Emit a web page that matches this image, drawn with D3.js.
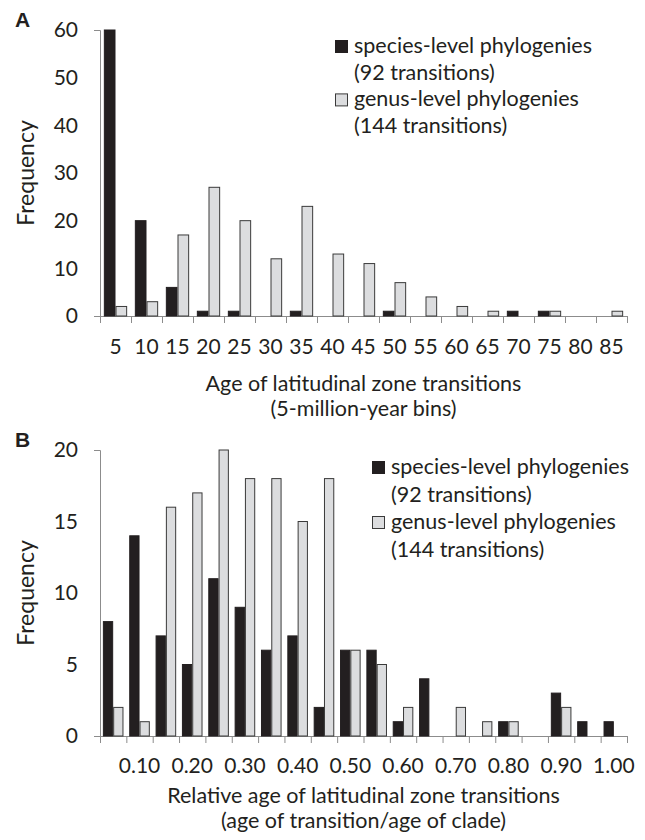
<!DOCTYPE html>
<html>
<head>
<meta charset="utf-8">
<script src="https://cdnjs.cloudflare.com/ajax/libs/d3/7.8.5/d3.min.js"></script>
<style>
body { margin: 0; background: #fff; }
svg { font-family: Lato, "Open Sans", sans-serif; }
text { fill: #231f20; }
</style>
</head>
<body>
<svg id="chart" width="645" height="840"></svg>
<script>
// panel A: age bins (5 Myr)
var binsA = ["5","10","15","20","25","30","35","40","45","50","55","60","65","70","75","80","85"];
var speciesA = [60, 20, 6, 1, 1, 0, 1, 0, 0, 1, 0, 0, 0, 1, 1, 0, 0];
var genusA   = [2, 3, 17, 27, 20, 12, 23, 13, 11, 7, 4, 2, 1, 0, 1, 0, 1];
var yTicksA  = [0, 10, 20, 30, 40, 50, 60];

// panel B: relative age bins
var binsB = ["0.05","0.10","0.15","0.20","0.25","0.30","0.35","0.40","0.45","0.50",
             "0.55","0.60","0.65","0.70","0.75","0.80","0.85","0.90","0.95","1.00"];
var speciesB = [8, 14, 7, 5, 11, 9, 6, 7, 2, 6, 6, 1, 4, 0, 0, 1, 0, 3, 1, 1];
var genusB   = [2, 1, 16, 17, 20, 18, 18, 15, 18, 6, 5, 2, 0, 2, 1, 1, 0, 2, 0, 0];
var yTicksB  = [0, 5, 10, 15, 20];
var labelsB  = ["0.10","0.20","0.30","0.40","0.50","0.60","0.70","0.80","0.90","1.00"];

var seriesNames = ["species-level phylogenies", "genus-level phylogenies"];
var seriesNotes = ["(92 transitions)", "(144 transitions)"];
var colors = ["#231f20", "#dcdddf"];
var strokes = ["#231f20", "#3a3a3a"];
var axisColor = "#8c8c8c";

var svg = d3.select("#chart");

function panel(opt) {
    var g = svg.append("g");
    var x = d3.scaleBand().domain(opt.bins).range([opt.x0, opt.x1]).padding(0);
    var edges = d3.scaleLinear().domain([0, opt.bins.length]).range([opt.x0, opt.x1]);
    var y = d3.scaleLinear().domain([0, opt.ymax]).range([opt.y0, opt.y1]);
    var sub = d3.scaleBand().domain([0, 1]).range([0, x.bandwidth()])
                .paddingInner(0).paddingOuter(opt.pad);

    // x axis, ticks sit on the bin edges
    var xa = g.append("g").attr("transform", "translate(0," + opt.y0 + ")")
        .call(d3.axisBottom(edges).tickValues(d3.range(opt.bins.length + 1))
              .tickFormat("").tickSize(7).tickSizeOuter(0));
    xa.selectAll("path, line").attr("stroke", axisColor);

    var xl = g.append("g").attr("transform", "translate(0," + opt.y0 + ")")
        .call(d3.axisBottom(x).tickValues(opt.labels).tickSize(0).tickPadding(opt.labPad));
    xl.select(".domain").remove();
    xl.selectAll("text").attr("fill", "#231f20").style("font-size", opt.tickFont + "px")
      .style("font-family", "Lato");

    // y axis
    var ya = g.append("g").attr("transform", "translate(" + opt.x0 + ",0)")
        .call(d3.axisLeft(y).tickValues(opt.yticks).tickSizeInner(0).tickSizeOuter(6).tickPadding(22));
    ya.select(".domain").attr("stroke", axisColor);
    ya.selectAll("text").attr("fill", "#231f20").style("font-size", opt.tickFont + "px")
      .style("font-family", "Lato");

    // bars
    [opt.species, opt.genus].forEach(function (vals, s) {
        g.append("g").selectAll("rect")
            .data(vals.map(function (v, i) { return { bin: opt.bins[i], v: v }; })
                      .filter(function (d) { return d.v > 0; }))
            .join("rect")
            .attr("x", function (d) { return x(d.bin) + sub(s) + 0.5; })
            .attr("y", function (d) { return y(d.v); })
            .attr("width", sub.bandwidth() - 1)
            .attr("height", function (d) { return opt.y0 - y(d.v); })
            .attr("fill", colors[s])
            .attr("stroke", strokes[s])
            .attr("stroke-width", 1);
    });

    // panel letter
    g.append("text").attr("x", 15).attr("y", opt.letterY)
        .style("font-family", "Arial, 'Liberation Sans', sans-serif")
        .style("font-weight", "bold").style("font-size", "21px").text(opt.letter);

    // y title
    g.append("text")
        .attr("transform", "translate(34," + ((opt.y0 + opt.y1) / 2) + ") rotate(-90)")
        .attr("text-anchor", "middle").style("font-size", "23px").text("Frequency");

    // x title
    var cx = (opt.x0 + opt.x1) / 2;
    opt.xtitle.forEach(function (t, i) {
        g.append("text").attr("x", cx).attr("y", opt.titleY + i * opt.titleGap)
            .attr("text-anchor", "middle").style("font-size", opt.titleFont + "px").text(t);
    });

    // legend
    var lg = g.append("g").attr("transform", "translate(" + opt.legX + "," + opt.legY + ")");
    seriesNames.forEach(function (name, s) {
        var yy = s * 2 * opt.legGap;
        lg.append("rect").attr("x", 0.5).attr("y", yy - 12.5).attr("width", 12).attr("height", 12)
            .attr("fill", colors[s]).attr("stroke", strokes[s]);
        lg.append("text").attr("x", 19).attr("y", yy).style("font-size", opt.legFont + "px").text(name);
        lg.append("text").attr("x", 19).attr("y", yy + opt.legGap).style("font-size", opt.legFont + "px")
            .text(seriesNotes[s]);
    });
}

panel({
    bins: binsA, species: speciesA, genus: genusA, labels: binsA, yticks: yTicksA, ymax: 60,
    x0: 100, x1: 627, y0: 316, y1: 30, pad: 0.33, labPad: 23, tickFont: 21,
    letter: "A", letterY: 27,
    xtitle: ["Age of latitudinal zone transitions", "(5-million-year bins)"],
    titleY: 391, titleGap: 25, titleFont: 21.5,
    legX: 335, legY: 53, legGap: 26.7, legFont: 21.5
});

panel({
    bins: binsB, species: speciesB, genus: genusB, labels: labelsB, yticks: yTicksB, ymax: 20,
    x0: 100, x1: 627, y0: 736, y1: 450, pad: 0.28, labPad: 22, tickFont: 21,
    letter: "B", letterY: 447,
    xtitle: ["Relative age of latitudinal zone transitions", "(age of transition/age of clade)"],
    titleY: 803, titleGap: 25, titleFont: 21.5,
    legX: 372, legY: 474, legGap: 27.5, legFont: 21.5
});
</script>
</body>
</html>
